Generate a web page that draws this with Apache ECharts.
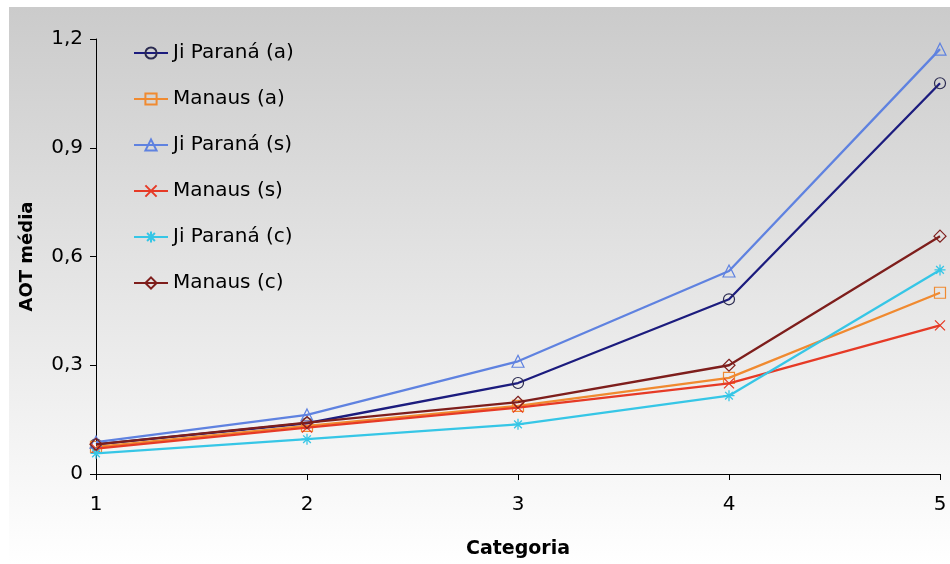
<!DOCTYPE html>
<html><head><meta charset="utf-8">
<script src="https://cdn.jsdelivr.net/npm/echarts@6/dist/echarts.min.js"></script>
<style>html,body{margin:0;padding:0;background:#fff}#c{width:950px;height:564px}</style>
</head><body><div id="c"></div>
<script>
const categories = ['1', '2', '3', '4', '5'];
const yTicks = [0, 0.3, 0.6, 0.9, 1.2];
const seriesNames = ['Ji Paraná (a)', 'Manaus (a)', 'Ji Paraná (s)', 'Manaus (s)', 'Ji Paraná (c)', 'Manaus (c)'];
const jiParanaA = [0.082, 0.140, 0.251, 0.482, 1.078];
const manausA = [0.075, 0.133, 0.188, 0.265, 0.500];
const jiParanaS = [0.088, 0.163, 0.311, 0.560, 1.172];
const manausS = [0.070, 0.128, 0.183, 0.250, 0.410];
const jiParanaC = [0.057, 0.096, 0.137, 0.216, 0.563];
const manausC = [0.082, 0.142, 0.198, 0.300, 0.656];

const seriesData = [jiParanaA, manausA, jiParanaS, manausS, jiParanaC, manausC];
const colors = ['#1c1c7e', '#f08a30', '#5f82e0', '#e63a26', '#36c6e6', '#7e1e1c'];
const xPath = 'path://M0,0 L10,10 M10,0 L0,10';
const starPath = 'path://M5,0 L5,10 M0,5 L10,5 M1.5,1.5 L8.5,8.5 M8.5,1.5 L1.5,8.5';
const symbols = ['circle', 'rect', 'triangle', xPath, starPath, 'diamond'];
const symSizes = [11, 11, 12, 10, 11, 12];

const font = 'DejaVu Sans, Verdana, sans-serif';
const chart = echarts.init(document.getElementById('c'));
chart.setOption({
  animation: false,
  backgroundColor: '#ffffff',
  graphic: [{
    type: 'rect', z: -10, silent: true,
    shape: { x: 9, y: 7, width: 941, height: 557 },
    style: {
      fill: new echarts.graphic.LinearGradient(0, 0, 0, 1, [
        { offset: 0, color: '#cbcbcb' },
        { offset: 1, color: '#ffffff' }
      ])
    }
  }],
  grid: { left: 96, right: 10, top: 39, bottom: 86, containLabel: false },
  legend: {
    orient: 'vertical', left: 128, top: 38,
    itemWidth: 34, itemHeight: 14, itemGap: 26,
    data: seriesNames,
    textStyle: { fontFamily: font, fontSize: 20, lineHeight: 20, color: '#000' }
  },
  xAxis: {
    type: 'category', data: categories, boundaryGap: false,
    name: 'Categoria', nameLocation: 'middle', nameGap: 66,
    nameTextStyle: { fontFamily: font, fontSize: 19, fontWeight: 'bold', color: '#000' },
    axisLine: { lineStyle: { color: '#000', width: 1 } },
    axisTick: { show: true, length: 6, lineStyle: { color: '#000' } },
    axisLabel: { fontFamily: font, fontSize: 20, color: '#000', margin: 21 },
    splitLine: { show: false }
  },
  yAxis: {
    type: 'value', min: yTicks[0], max: yTicks[yTicks.length - 1], interval: 0.3,
    name: 'AOT média', nameLocation: 'middle', nameGap: 60,
    nameTextStyle: { fontFamily: font, fontSize: 18, fontWeight: 'bold', color: '#000' },
    axisLine: { show: true, lineStyle: { color: '#000', width: 1 } },
    axisTick: { show: true, length: 6, lineStyle: { color: '#000' } },
    axisLabel: { fontFamily: font, fontSize: 20, color: '#000', margin: 13,
      formatter: v => (Math.round(v * 10) / 10).toString().replace('.', ',') },
    splitLine: { show: false }
  },
  series: seriesData.map((d, i) => {
    const isPath = symbols[i].startsWith('path://');
    return {
      name: seriesNames[i], type: 'line', data: d,
      symbol: symbols[i], symbolSize: symSizes[i], showSymbol: true,
      lineStyle: { color: colors[i], width: 2.3 },
      itemStyle: isPath
        ? { color: 'rgba(0,0,0,0)', borderColor: colors[i], borderWidth: 1.3 }
        : { color: 'rgba(0,0,0,0)', borderColor: (i === 0 ? '#2a2a50' : colors[i]), borderWidth: 1.2 },
      z: 2 + i
    };
  })
});
</script></body></html>
